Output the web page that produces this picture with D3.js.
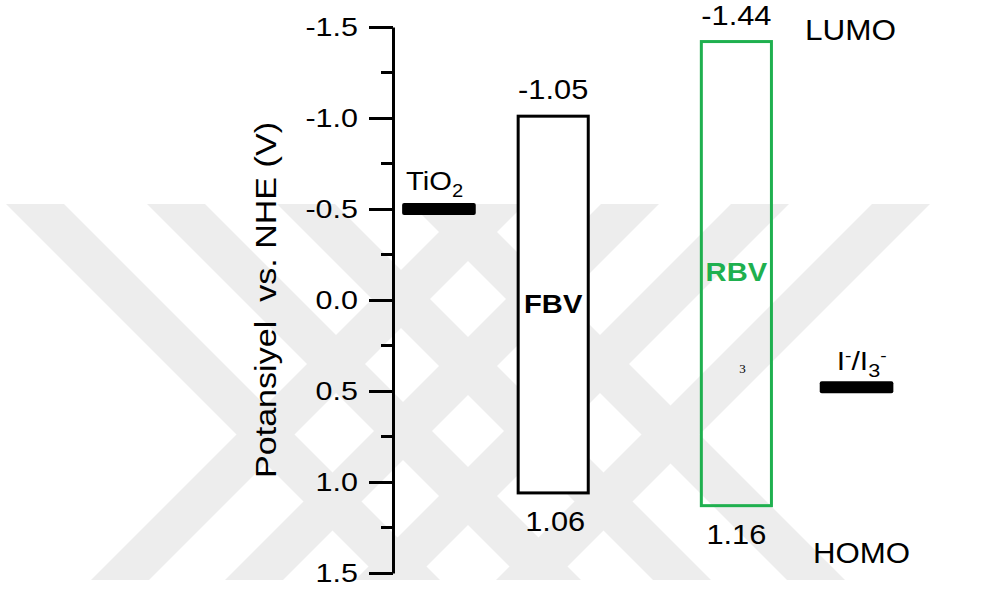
<!DOCTYPE html>
<html>
<head>
<meta charset="utf-8">
<script src="https://cdn.jsdelivr.net/npm/d3@7"></script>
<style>
  body { margin: 0; background: #fff; }
  svg text { font-family: "Liberation Sans", Arial, sans-serif; fill: #000; }
</style>
</head>
<body>
<div id="chart"></div>
<script>
// dye levels, V vs NHE (box edges as drawn, labels as printed)
var dyes = ["FBV", "RBV"];
var lumo = [-1.01, -1.42];
var homo = [1.06, 1.13];
var lumoText = ["-1.05", "-1.44"];
var homoText = ["1.06", "1.16"];
var dyeX = [2.72, 5.83];      // place on the hidden x axis (0..10)

// reference levels
var refNames = ["TiO2", "I-/I3-"];
var refLevel = [-0.5, 0.48];
var refX = [0.78, 7.87];

var yTicks = [-1.5, -1.0, -0.5, 0.0, 0.5, 1.0, 1.5];

var width = 982, height = 590;
var green = "#1fb04f";

var svg = d3.select("#chart").append("svg")
    .attr("width", width)
    .attr("height", height);

var y = d3.scaleLinear().domain([-1.5, 1.5]).range([27, 573]);
var x = d3.scaleLinear().domain([0, 10]).range([393, 982]);

// stretch text a bit wider, the original fonts run wide
function stretch(sel, f) {
  sel.each(function() {
    var w = this.getComputedTextLength();
    d3.select(this).attr("textLength", w * f).attr("lengthAdjust", "spacingAndGlyphs");
  });
}

// faint background watermark (diagonal bands)
var wmTop = 204, wmBot = 580, wmW = 58;
var wmDown = [6, 147, 277, 411];
var wmUp = [467, 601, 731, 872];
var hh = wmBot - wmTop;
var wm = svg.append("g").attr("fill", "#ededed");
wm.selectAll("polygon.down")
  .data(wmDown)
  .join("polygon")
    .attr("points", d => [[d, wmTop], [d + wmW, wmTop], [d + wmW + hh, wmBot], [d + hh, wmBot]].join(" "));
wm.selectAll("polygon.up")
  .data(wmUp)
  .join("polygon")
    .attr("points", d => [[d, wmTop], [d + wmW, wmTop], [d + wmW - hh, wmBot], [d - hh, wmBot]].join(" "));

// y axis
var yAxis = d3.axisLeft(y)
    .tickValues(yTicks)
    .tickSize(24)
    .tickSizeOuter(0)
    .tickPadding(11)
    .tickFormat(d => d.toFixed(1));

var gAxis = svg.append("g")
    .attr("transform", "translate(" + x(0) + ",0)")
    .call(yAxis);
gAxis.attr("font-family", "Liberation Sans, Arial, sans-serif")
    .attr("font-size", 25);
gAxis.select(".domain").attr("stroke-width", 3);
gAxis.selectAll(".tick line").attr("stroke-width", 3);
gAxis.selectAll(".tick text").attr("fill", "#000").call(stretch, 1.22);

// minor ticks halfway between the labelled ones
var minor = d3.pairs(yTicks).map(p => (p[0] + p[1]) / 2);
gAxis.selectAll("line.minor")
  .data(minor)
  .join("line")
    .attr("class", "minor")
    .attr("x1", -12).attr("x2", 0)
    .attr("y1", d => y(d)).attr("y2", d => y(d))
    .attr("stroke", "#000")
    .attr("stroke-width", 3);

svg.append("text")
    .attr("transform", "translate(276," + y(0) + ") rotate(-90)")
    .attr("text-anchor", "middle")
    .attr("font-size", 29)
    .attr("textLength", 356)
    .attr("lengthAdjust", "spacingAndGlyphs")
    .attr("xml:space", "preserve")
    .text("Potansiyel  vs. NHE (V)");

// dye boxes
var boxW = 1.19;
var boxes = svg.append("g").selectAll("g")
  .data(dyes)
  .join("g");

boxes.append("rect")
    .attr("x", (d, i) => x(dyeX[i] - boxW / 2))
    .attr("width", x(boxW) - x(0))
    .attr("y", (d, i) => y(lumo[i]))
    .attr("height", (d, i) => y(homo[i]) - y(lumo[i]))
    .attr("fill", (d, i) => i === 0 ? "#fff" : "none")
    .attr("stroke", (d, i) => i === 0 ? "#000" : green)
    .attr("stroke-width", 3);

boxes.append("text")
    .attr("x", (d, i) => x(dyeX[i]))
    .attr("y", (d, i) => y(lumo[i]) - 17)
    .attr("text-anchor", "middle")
    .attr("font-size", 28)
    .text((d, i) => lumoText[i])
    .call(stretch, 1.1);

boxes.append("text")
    .attr("x", (d, i) => x(dyeX[i]) + (i === 0 ? 2 : 0))
    .attr("y", (d, i) => y(homo[i]) + 38)
    .attr("text-anchor", "middle")
    .attr("font-size", 28)
    .text((d, i) => homoText[i])
    .call(stretch, 1.1);

boxes.append("text")
    .attr("x", (d, i) => x(dyeX[i]))
    .attr("y", (d, i) => y(0) + (i === 0 ? 13 : -19))
    .attr("text-anchor", "middle")
    .attr("font-size", 26)
    .attr("font-weight", "bold")
    .style("fill", (d, i) => i === 0 ? "#000" : green)
    .text(d => d)
    .call(stretch, 1.12);

// stray "3" left inside the RBV box
svg.append("text")
    .attr("x", x(dyeX[1]) + 6)
    .attr("y", y(0.4))
    .attr("text-anchor", "middle")
    .attr("font-size", 13)
    .style("font-family", "Liberation Serif, Times New Roman, serif")
    .text("3");

// TiO2 and I-/I3- levels
var barW = 1.25;
svg.append("g").selectAll("rect")
  .data(refLevel)
  .join("rect")
    .attr("x", (d, i) => x(refX[i] - barW / 2))
    .attr("width", x(barW) - x(0))
    .attr("y", d => y(d) - 6)
    .attr("height", 12)
    .attr("rx", 2)
    .attr("fill", "#000");

var tio2 = svg.append("text")
    .attr("x", x(refX[0] - barW / 2) + 4)
    .attr("y", y(refLevel[0]) - 19)
    .attr("font-size", 26);
tio2.append("tspan").text("TiO");
tio2.append("tspan").attr("font-size", 18).attr("dy", 7).text("2");
stretch(tio2, 1.12);

var redox = svg.append("text")
    .attr("x", x(refX[1] - barW / 2) + 17)
    .attr("y", y(refLevel[1]) - 17)
    .attr("font-size", 25);
redox.append("tspan").text("I");
redox.append("tspan").attr("font-size", 16).attr("dy", -9).text("-");
redox.append("tspan").attr("dy", 9).text("/I");
redox.append("tspan").attr("font-size", 18).attr("dy", 7).text("3");
redox.append("tspan").attr("font-size", 16).attr("dy", -16).text("-");
stretch(redox, 1.2);

svg.append("text")
    .attr("x", 805)
    .attr("y", y(-1.5) + 13)
    .attr("font-size", 30)
    .text("LUMO")
    .call(stretch, 1.05);

svg.append("text")
    .attr("x", 813)
    .attr("y", y(1.5) - 10)
    .attr("font-size", 30)
    .text("HOMO")
    .call(stretch, 1.04);
</script>
</body>
</html>
